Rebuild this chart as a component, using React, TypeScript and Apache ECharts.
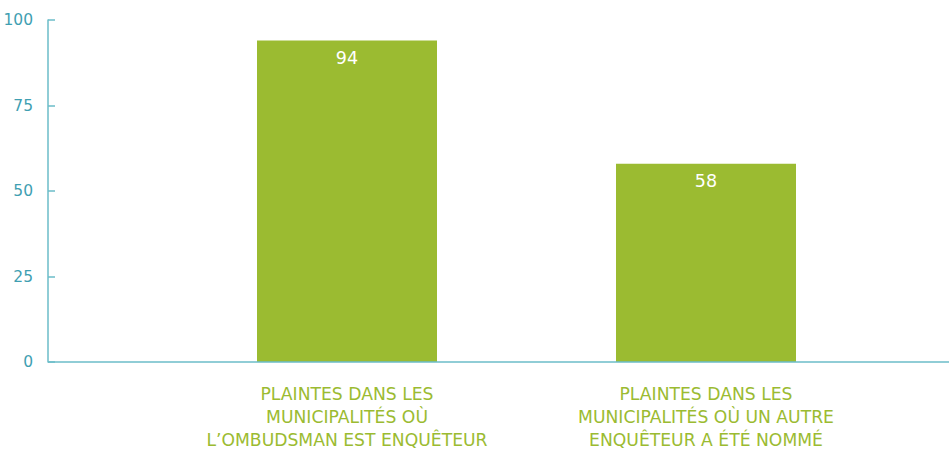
import React, { useEffect, useRef } from "react";
import * as echarts from "echarts";

const categories: string[] = [
  "PLAINTES DANS LES\nMUNICIPALITÉS OÙ\nL’OMBUDSMAN EST ENQUÊTEUR",
  "PLAINTES DANS LES\nMUNICIPALITÉS OÙ UN AUTRE\nENQUÊTEUR A ÉTÉ NOMMÉ",
];
const values: number[] = [94, 58];
const yMin = 0;
const yMax = 100;
const yInterval = 25;

const TEAL = "#3f9fb2";
const AXIS = "#6bbcc8";
const GREEN = "#9bbb31";
const FONT = "'DejaVu Sans', sans-serif";

export default function App() {
  const ref = useRef<HTMLDivElement>(null);
  useEffect(() => {
    if (!ref.current) return;
    const chart = echarts.init(ref.current, undefined, { renderer: "svg" });
    chart.setOption({
      animation: false,
      grid: { left: 167.5, right: 63.5, top: 20, bottom: 90, containLabel: false },
      xAxis: {
        type: "category",
        data: categories,
        axisLine: { show: false },
        axisTick: { show: false },
        axisLabel: {
          color: GREEN,
          fontFamily: FONT,
          fontWeight: 400,
          fontSize: 17.2,
          lineHeight: 23,
          margin: 20,
          interval: 0,
          align: "center",
        },
      },
      yAxis: {
        type: "value",
        min: yMin,
        max: yMax,
        interval: yInterval,
        offset: 119.5,
        splitLine: { show: false },
        axisLine: { show: true, lineStyle: { color: AXIS, width: 1.5 } },
        axisTick: { show: true, inside: true, length: 7, lineStyle: { color: AXIS, width: 1.5 } },
        axisLabel: {
          color: TEAL,
          fontFamily: FONT,
          fontWeight: 400,
          fontSize: 15.5,
          margin: 15,
          padding: [5, 0, 0, 0],
        },
      },
      series: [
        {
          type: "bar",
          data: values,
          barWidth: 180,
          itemStyle: { color: GREEN },
          label: {
            show: true,
            position: "insideTop",
            distance: 8,
            color: "#ffffff",
            fontFamily: FONT,
            fontWeight: 400,
            fontSize: 17.5,
          },
        },
      ],
      graphic: [
        {
          type: "line",
          shape: { x1: 48, y1: 362, x2: 949, y2: 362 },
          style: { stroke: AXIS, lineWidth: 1.5 },
          z: 10,
        },
      ],
    });
    return () => chart.dispose();
  }, []);
  return <div ref={ref} style={{ width: 949, height: 452, position: "absolute", left: 0, top: 0 }} />;
}
